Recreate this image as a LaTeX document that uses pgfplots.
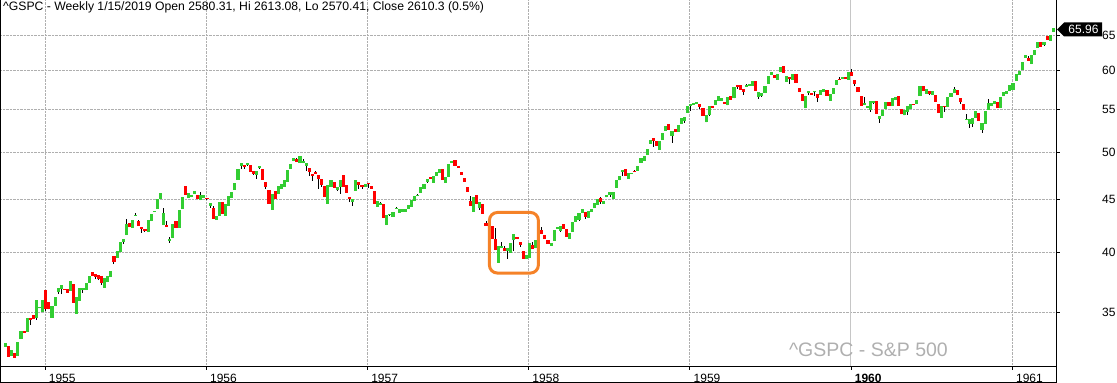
\documentclass[border=0pt]{standalone}
\usepackage{fontspec}
\setmainfont{Liberation Sans}
\usepackage{pgfplots}
\usepackage{pgfplotstable}
\pgfplotsset{compat=1.18}
\definecolor{upc}{RGB}{50,205,50}
\definecolor{dnc}{RGB}{255,0,0}
\definecolor{gridc}{RGB}{175,175,175}
\definecolor{boxc}{RGB}{245,130,40}
\definecolor{wmc}{RGB}{175,175,175}

\pgfplotstableread{
i o h l c
1 32.40 32.68 32.40 32.68
3 31.77 32.18 31.77 32.18
5 31.77 32.75 31.77 32.75
6 33.00 33.55 33.00 33.55
8 33.52 34.56 33.52 34.56
11 34.58 35.98 34.43 35.98
12 35.32 35.42 35.32 35.42
13 35.05 35.98 35.05 35.98
16 34.58 35.50 34.58 35.50
17 35.53 36.22 35.53 36.22
18 36.60 36.95 36.46 36.95
19 36.85 37.20 36.46 37.20
22 36.71 37.53 36.71 37.53
24 34.89 36.22 34.89 36.22
25 35.93 36.95 35.93 36.95
26 36.79 36.95 36.57 36.95
27 36.79 37.37 36.79 37.37
28 37.37 37.95 37.37 37.95
33 36.98 37.79 36.98 37.79
34 37.45 37.95 37.45 37.95
35 37.87 38.39 37.87 38.39
37 39.52 40.13 39.52 40.13
38 40.05 40.95 40.05 40.95
39 40.95 41.22 40.77 41.22
40 41.59 43.10 41.59 42.62
42 42.25 43.01 42.25 43.01
43 43.42 43.70 43.42 43.52
47 41.87 43.01 41.87 43.01
48 42.91 43.59 42.91 43.59
49 43.79 43.88 43.79 43.88
50 44.08 45.07 44.08 45.07
51 45.07 45.69 45.07 45.69
52 42.53 44.18 42.53 43.69
54 41.04 41.41 40.86 41.22
55 41.31 42.62 41.31 42.62
57 42.25 43.98 42.25 43.98
58 44.08 45.27 44.08 45.27
60 45.20 45.69 45.20 45.69
61 45.27 45.48 45.27 45.48
62 45.58 45.89 45.58 45.89
64 44.97 45.79 44.97 45.48
65 45.17 45.48 45.17 45.48
67 44.38 44.68 44.18 44.68
69 43.01 43.40 43.01 43.40
70 43.40 44.77 43.40 44.77
72 43.40 44.58 43.40 44.58
73 44.38 45.38 44.38 45.38
74 45.17 45.79 45.17 45.79
75 45.99 46.72 45.99 46.72
76 47.03 48.20 47.03 48.20
77 48.52 48.84 48.20 48.84
79 48.63 48.84 48.52 48.84
82 47.56 47.98 47.14 47.98
83 48.31 48.52 48.20 48.52
87 43.98 45.58 43.98 45.58
89 45.58 46.41 45.58 46.41
90 46.09 46.61 46.09 46.61
91 46.30 47.03 46.30 47.03
92 46.82 48.09 46.82 48.09
93 48.20 48.74 48.20 48.74
94 49.06 49.40 49.06 49.40
96 48.84 49.62 48.84 49.62
97 48.84 49.28 48.84 49.06
98 48.52 48.84 47.98 48.84
105 44.58 46.51 44.58 46.51
106 46.30 47.03 46.30 47.03
108 45.99 46.30 45.89 46.30
109 46.30 47.03 45.58 47.03
113 44.77 45.07 44.38 45.07
114 45.89 47.03 45.89 47.03
117 46.30 46.61 46.30 46.61
121 44.28 44.87 44.28 44.87
122 44.48 44.77 44.48 44.68
124 42.53 43.49 42.53 43.49
125 43.49 43.59 43.40 43.59
126 43.30 43.79 43.30 43.79
127 44.08 44.28 44.08 44.18
128 43.69 44.08 43.69 44.08
129 43.79 44.08 43.79 44.08
130 43.79 44.08 43.79 44.08
131 44.08 44.48 44.08 44.48
132 44.28 44.97 44.28 44.97
133 44.87 45.38 44.87 45.38
134 45.38 45.58 45.38 45.48
135 45.69 46.30 45.69 46.30
136 46.09 46.61 46.09 46.61
137 46.82 47.14 46.72 47.14
139 46.72 47.45 46.72 47.45
140 47.45 47.88 47.45 47.88
141 47.77 48.20 47.77 48.20
143 46.72 47.35 46.72 47.35
144 47.35 48.74 47.35 48.74
145 48.84 49.06 48.84 49.06
152 43.79 45.27 43.79 45.27
154 44.18 44.77 43.98 44.77
157 42.34 42.91 42.34 42.91
160 39.08 40.59 39.08 40.59
161 40.40 40.95 40.40 40.59
163 40.13 40.40 39.43 40.40
164 39.96 40.86 39.96 40.86
165 41.13 41.68 40.13 41.68
169 39.43 39.78 39.43 39.78
170 39.52 40.86 39.52 40.86
172 40.40 41.13 40.40 41.13
173 41.41 41.68 41.41 41.68
177 40.62 40.89 40.62 40.89
178 41.07 42.09 41.07 42.09
179 42.19 42.37 42.19 42.37
180 42.00 42.47 41.90 42.47
183 41.25 41.81 41.25 41.81
184 41.90 42.78 41.90 42.78
185 42.85 43.42 42.85 43.42
186 43.05 43.72 42.91 43.72
187 43.72 44.11 43.72 44.11
189 43.23 43.91 43.23 43.91
190 43.81 44.11 43.81 44.11
191 44.21 44.71 44.21 44.71
192 44.51 45.10 44.51 45.10
194 44.61 44.90 44.61 44.90
195 45.23 45.51 45.23 45.51
196 45.44 45.76 45.31 45.76
197 45.10 45.82 45.10 45.82
198 46.24 47.06 46.24 47.06
199 46.99 47.49 46.99 47.49
200 47.91 48.12 47.49 48.12
202 47.17 47.81 47.17 47.81
203 47.73 47.81 47.73 47.81
205 48.02 48.56 48.02 48.56
206 48.88 49.42 48.88 49.42
207 49.11 49.65 49.11 49.65
208 49.76 50.44 49.76 50.44
209 51.00 51.45 51.00 51.45
212 50.31 51.34 50.31 51.34
213 51.46 52.27 51.46 52.27
214 52.50 53.09 52.50 53.09
216 51.92 52.50 51.10 52.50
218 52.38 53.20 52.38 53.20
219 53.29 54.01 53.29 54.01
220 53.68 54.16 53.44 54.16
221 54.66 55.51 54.66 55.51
222 55.51 55.76 54.90 55.76
223 55.63 55.89 55.63 55.89
224 55.76 56.01 55.76 56.01
227 53.49 54.40 53.49 54.40
228 54.40 55.51 54.29 55.51
230 55.64 56.26 55.64 56.26
231 56.14 56.77 56.14 56.77
232 56.14 56.51 56.14 56.51
234 55.54 56.60 55.54 56.60
236 56.43 57.94 56.43 57.94
240 57.88 58.27 57.88 58.14
241 58.01 58.27 58.01 58.27
242 58.01 58.66 58.01 58.66
244 56.64 57.23 56.39 57.23
245 56.76 57.10 56.64 57.10
246 57.08 58.01 57.08 58.01
247 58.27 59.36 58.27 59.36
248 59.45 59.85 59.45 59.85
250 58.83 59.58 58.83 59.58
251 59.85 60.52 59.85 60.52
253 58.58 59.32 58.58 59.32
255 58.83 59.58 58.83 59.58
259 55.17 56.72 55.17 56.72
260 57.06 57.40 56.85 57.32
262 57.27 57.40 56.76 57.40
264 56.89 57.49 56.89 57.49
265 57.27 57.62 57.27 57.62
267 56.14 56.98 56.14 56.98
268 57.01 57.75 57.01 57.75
269 58.14 58.79 58.14 58.79
271 58.92 59.18 58.92 59.18
273 58.83 59.85 58.83 59.85
278 55.64 56.60 55.64 55.85
279 55.26 55.51 55.26 55.51
280 54.98 56.13 54.77 56.13
281 55.85 56.09 55.72 56.09
283 53.92 54.29 53.44 54.29
284 54.29 55.02 54.29 55.02
285 55.05 55.97 55.05 55.97
287 55.51 56.51 55.51 56.51
288 56.26 56.64 56.26 56.64
291 54.33 54.94 54.33 54.94
292 54.78 55.43 54.37 55.43
293 55.10 55.72 55.10 55.72
295 55.72 56.22 55.72 56.22
296 56.72 58.01 56.72 58.01
298 56.98 57.62 56.98 57.62
300 56.85 57.36 56.85 57.36
303 54.01 55.47 54.01 55.47
305 55.35 56.60 55.35 56.60
306 56.60 57.10 56.60 57.10
307 57.10 57.88 57.10 57.62
311 53.77 54.49 53.77 53.89
312 53.29 53.89 52.82 53.89
313 53.29 54.01 52.93 54.01
314 54.01 54.86 54.01 54.86
316 52.58 53.41 52.23 53.41
317 53.29 54.86 53.29 54.86
318 54.98 56.34 54.98 55.85
319 55.47 55.85 55.47 55.85
320 55.72 56.09 55.72 56.09
322 55.22 56.60 55.22 56.60
323 56.72 57.23 56.72 57.23
324 56.98 57.36 56.98 57.36
325 57.36 58.14 57.36 58.14
326 57.49 58.40 57.49 58.40
327 58.66 59.58 58.66 59.58
328 59.45 59.98 59.45 59.98
329 60.12 61.20 60.12 61.20
330 61.75 62.16 61.75 62.16
332 60.92 62.16 60.92 62.16
333 62.16 62.86 62.16 62.86
334 63.15 64.00 63.15 64.00
336 63.56 64.00 63.42 64.00
338 64.14 65.00 64.14 65.00
339 65.44 65.96 65.44 65.96
}\upbars

\pgfplotstableread{
i o h l c
2 32.47 32.47 31.68 31.68
4 31.98 31.98 31.63 31.63
7 33.55 33.60 33.45 33.45
9 34.56 34.56 34.02 34.41
10 34.79 34.79 34.48 34.48
14 36.79 36.79 35.08 35.26
15 35.82 35.82 35.24 35.24
20 36.90 36.90 36.85 36.85
21 36.87 36.87 36.57 36.57
23 37.28 37.28 35.77 35.77
29 38.30 38.30 37.95 37.95
30 38.13 38.13 37.70 37.87
31 38.04 38.04 37.62 37.70
32 37.95 37.95 37.23 37.39
36 39.69 39.69 38.99 39.17
41 42.72 42.72 42.34 42.34
44 42.91 43.01 42.44 42.44
45 42.34 42.34 41.78 42.15
46 42.15 42.15 41.87 41.97
53 42.53 42.91 42.34 42.34
56 42.91 42.91 42.25 42.25
59 46.41 46.41 45.48 45.48
63 45.48 45.48 45.07 45.07
66 45.17 45.17 44.97 45.07
68 44.18 44.41 43.11 43.11
71 44.77 44.77 43.59 43.59
78 48.63 48.63 48.20 48.41
80 48.63 48.63 47.88 47.88
81 47.98 47.98 47.56 47.67
84 48.20 48.20 47.03 47.03
85 46.82 46.82 46.09 46.30
86 45.99 45.99 44.58 44.58
88 45.89 45.89 45.07 45.07
95 49.28 49.40 48.95 48.95
99 48.31 48.31 47.45 47.88
100 47.67 47.67 46.93 47.45
101 47.88 47.98 47.67 47.67
102 47.56 47.56 46.09 47.14
103 47.14 47.14 46.30 46.51
104 46.41 46.41 45.27 45.27
107 46.82 46.82 46.20 46.20
110 47.56 47.56 46.30 46.30
111 46.51 46.51 45.69 45.69
112 45.27 45.27 44.77 45.07
115 46.82 46.82 46.09 46.51
116 46.51 46.51 46.09 46.30
118 46.72 46.72 46.20 46.61
119 46.41 46.41 46.09 46.09
120 45.89 45.89 44.58 44.58
123 44.58 44.58 43.20 43.20
138 47.35 47.35 47.14 47.14
142 48.20 48.20 47.03 47.03
146 49.17 49.17 48.52 48.52
147 48.52 48.52 48.31 48.31
148 47.88 47.88 47.56 47.56
149 47.24 47.24 46.82 46.82
150 46.30 46.30 45.79 45.79
151 44.87 45.38 44.38 44.38
153 45.48 45.48 44.58 44.58
155 44.58 44.58 43.59 43.59
156 42.72 42.91 42.44 42.44
158 42.44 42.44 41.22 41.22
159 41.22 42.25 40.22 40.22
162 40.40 40.59 40.13 40.13
166 41.41 41.41 41.22 41.22
167 40.95 40.95 40.50 40.68
168 40.13 40.13 39.43 39.43
171 40.68 40.95 40.31 40.31
174 42.06 42.34 41.68 41.68
175 41.59 41.59 41.22 41.22
176 41.16 41.16 40.79 40.79
181 42.65 42.65 42.18 42.18
182 42.18 42.18 41.43 41.43
188 43.81 43.81 43.13 43.33
193 45.20 45.31 44.61 44.80
201 48.23 48.23 47.49 47.49
204 48.02 48.12 47.91 47.91
210 51.68 51.68 50.65 51.34
211 51.34 51.34 50.77 50.77
215 53.33 53.33 52.62 52.62
217 52.73 52.73 52.38 52.38
225 55.76 55.76 55.14 55.39
226 55.26 55.26 54.29 54.29
229 55.51 55.51 55.26 55.26
233 56.01 56.01 55.76 55.76
235 56.72 56.72 56.26 56.26
237 58.14 58.14 57.62 57.88
238 58.14 58.14 57.53 57.53
239 57.66 57.66 56.89 57.27
243 58.66 58.66 57.40 57.40
249 59.45 59.45 59.05 59.05
252 60.66 60.66 59.72 59.72
254 59.18 59.18 58.27 58.92
256 59.58 59.58 58.40 58.40
257 57.75 57.75 57.23 57.23
258 56.98 56.98 56.14 56.14
261 57.10 57.10 56.89 56.89
263 56.98 56.98 56.01 56.51
266 57.49 57.49 56.76 56.76
270 58.96 59.18 58.83 58.83
272 59.18 59.18 58.96 58.96
274 59.85 60.25 59.36 59.36
275 58.79 58.79 58.01 58.27
276 57.88 57.88 57.23 57.23
277 56.72 56.72 55.51 55.51
282 56.09 56.09 54.53 54.53
286 55.97 55.97 55.51 55.51
289 56.72 56.72 55.51 55.51
290 55.06 55.06 54.45 54.45
294 55.72 55.72 55.60 55.60
297 58.01 58.01 57.36 57.36
299 57.36 57.36 56.85 56.98
301 56.85 56.85 55.97 55.97
302 55.72 55.72 54.61 54.61
304 55.47 55.47 54.74 55.35
308 57.49 57.49 56.85 56.85
309 56.47 56.47 55.72 55.97
310 55.72 55.72 54.98 54.98
315 54.61 54.61 53.65 53.65
321 55.97 55.97 55.22 55.22
331 61.75 62.02 61.34 61.34
335 64.00 64.00 63.30 63.30
337 64.86 64.86 64.28 64.28
}\downbars

\begin{document}
\begin{tikzpicture}
\useasboundingbox (0pt,0pt) rectangle (1117pt,383pt);
\begin{axis}[
  at={(0pt,17pt)}, anchor=south west,
  scale only axis, width=1056pt, height=366pt,
  xmin=-0.774, xmax=339.87,
  ymode=log, ymin=31.05, ymax=70.29,
  axis x line*=bottom, axis y line*=right,
  axis line style={black, line width=0.9pt, -},
  tick align=outside, major tick length=4pt,
  tick style={black, line width=0.9pt},
  xtick={13.74,65.74,117.74,169.74,221.74,325.74},
  xticklabels={1955,1956,1957,1958,1959,1961},
  extra x ticks={273.74},
  extra x tick labels={\textbf{1960}},
  extra x tick style={major grid style={solid, color=gray!45, line width=1pt}},
  ytick={35,40,45,50,55,60,65},
  yticklabels={35,40,45,50,55,60,65},
  minor ytick={},
  grid=major,
  major grid style={densely dotted, color=gridc, line width=0.9pt},
  tick label style={font=\fontsize{12pt}{14pt}\selectfont, inner sep=0pt},
  xticklabel style={anchor=base west, xshift=3.7pt, yshift=-12.3pt},
  yticklabel style={anchor=west, xshift=42pt},
  /pgf/number format/assume math mode=true,
]
\addplot[draw=none, mark=none, forget plot,
  error bars/.cd, y dir=plus, y explicit, error mark=none,
  error bar style={draw=black, solid, line width=1pt}]
  table[x=i, y=l, y error plus expr=\thisrow{h}-\thisrow{l}] {\upbars};
\addplot[draw=none, mark=none, forget plot,
  error bars/.cd, y dir=plus, y explicit, error mark=none,
  error bar style={draw=black, solid, line width=1pt}]
  table[x=i, y=l, y error plus expr=\thisrow{h}-\thisrow{l}] {\downbars};
\addplot[draw=none, mark=none,
  error bars/.cd, y dir=plus, y explicit, error mark=none,
  error bar style={draw=upc, solid, line width=3.1pt}]
  table[x=i, y=o, y error plus expr=\thisrow{c}-\thisrow{o}] {\upbars};
\addplot[draw=none, mark=none,
  error bars/.cd, y dir=plus, y explicit, error mark=none,
  error bar style={draw=dnc, solid, line width=3.1pt}]
  table[x=i, y=c, y error plus expr=\thisrow{o}-\thisrow{c}] {\downbars};
\draw[boxc, line width=3pt, rounded corners=8pt] (axis cs:157.1,43.74) rectangle (axis cs:172.9,38.21);
\end{axis}
\draw[black, line width=0.9pt] (0.45pt,0pt) -- (0.45pt,383pt);
\draw[black, line width=0.9pt] (0pt,0.45pt) -- (1056pt,0.45pt);
\draw[black, line width=0.9pt] (1056pt,0pt) -- (1056pt,17pt);
\node[anchor=base west, inner sep=0pt, font=\fontsize{12.2pt}{14pt}\selectfont] at (3pt,372pt)
  {\textasciicircum GSPC - Weekly 1/15/2019 Open 2580.31, Hi 2613.08, Lo 2570.41, Close 2610.3 (0.5\%)};
\node[anchor=base east, inner sep=0pt, text=wmc, font=\fontsize{19.5pt}{22pt}\selectfont] at (948pt,26.3pt)
  {\textasciicircum GSPC - S\&P 500};
\fill[black] (1057pt,353.5pt) -- (1064pt,360.5pt) -- (1102pt,360.5pt) -- (1102pt,346.5pt) -- (1064pt,346.5pt) -- cycle;
\node[text=white, inner sep=0pt, font=\fontsize{12pt}{14pt}\selectfont] at (1083.5pt,353.5pt) {65.96};
\end{tikzpicture}
\end{document}
